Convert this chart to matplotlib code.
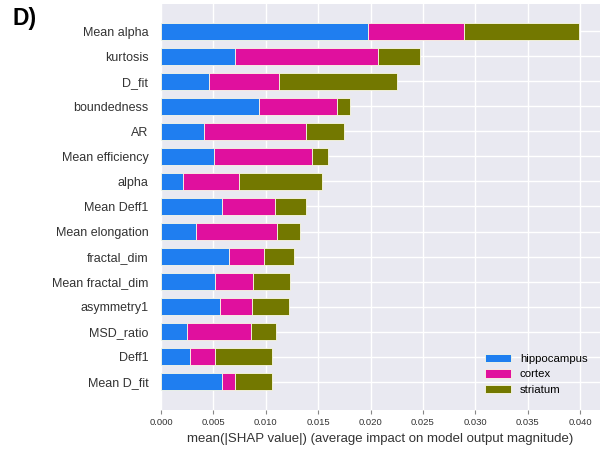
import numpy as np
import matplotlib.pyplot as plt

# feature names, top to bottom
features = ['Mean alpha', 'kurtosis', 'D_fit', 'boundedness', 'AR', 'Mean efficiency',
            'alpha', 'Mean Deff1', 'Mean elongation', 'fractal_dim', 'Mean fractal_dim',
            'asymmetry1', 'MSD_ratio', 'Deff1', 'Mean D_fit']

# mean |SHAP| per region
hippocampus = [0.0198, 0.0071, 0.0046, 0.0094, 0.0041, 0.0051, 0.0021, 0.0058,
               0.0033, 0.0065, 0.0052, 0.0056, 0.0025, 0.0028, 0.0058]
cortex = [0.0091, 0.0136, 0.0067, 0.0074, 0.0097, 0.0093, 0.0053, 0.0051,
          0.0078, 0.0033, 0.0036, 0.0031, 0.0061, 0.0024, 0.0013]
striatum = [0.0110, 0.0040, 0.0112, 0.0012, 0.0037, 0.0015, 0.0080, 0.0029,
            0.0022, 0.0029, 0.0035, 0.0035, 0.0024, 0.0054, 0.0035]

regions = ['hippocampus', 'cortex', 'striatum']
colors = ['#1f7ef0', '#e0109e', '#737800']

plt.rcParams['font.family'] = ['Liberation Sans', 'DejaVu Sans']

fig = plt.figure(figsize=(6.02, 4.49), dpi=100)
ax = fig.add_axes([161 / 602, 1 - 410 / 449, 439 / 602, 406 / 449])
ax.set_facecolor('#e9e9f1')

y = np.arange(len(features))[::-1]
left = np.zeros(len(features))
for name, vals, c in zip(regions, [hippocampus, cortex, striatum], colors):
    vals = np.array(vals)
    ax.barh(y, vals, left=left, height=0.68, color=c, label=name,
            edgecolor='#fafae6', linewidth=0.6, zorder=3)
    left += vals

ticks = np.arange(0, 0.0401, 0.005)
ax.set_yticks(y)
ax.set_yticklabels(features, fontsize=9, color='#333333')
ax.set_ylim(-1.12, len(features) - 1 + 1.08)
ax.set_xlim(0, 0.0419)
ax.set_xticks(ticks)
ax.set_xticklabels([f'{v:.3f}' for v in ticks], fontsize=6.8, color='#333333')
ax.set_xlabel('mean(|SHAP value|) (average impact on model output magnitude)',
              fontsize=9.5, color='#333333', labelpad=4)

ax.grid(True, color='white', linewidth=1.0, zorder=0)
ax.set_axisbelow(True)
for s in ax.spines.values():
    s.set_visible(False)
ax.tick_params(axis='y', length=0, pad=9)
ax.tick_params(axis='x', length=3, width=0.8, color='#888888', pad=3)

ax.legend(loc='lower right', frameon=False, fontsize=8.2, handlelength=2.3,
          handleheight=0.8, labelspacing=0.45, handletextpad=0.8,
          bbox_to_anchor=(0.995, 0.012))

fig.text(13 / 602, 1 - 7 / 449, 'D)', fontsize=16.5, fontweight='bold', va='top', ha='left')

fig.savefig('out.png', dpi=100)
